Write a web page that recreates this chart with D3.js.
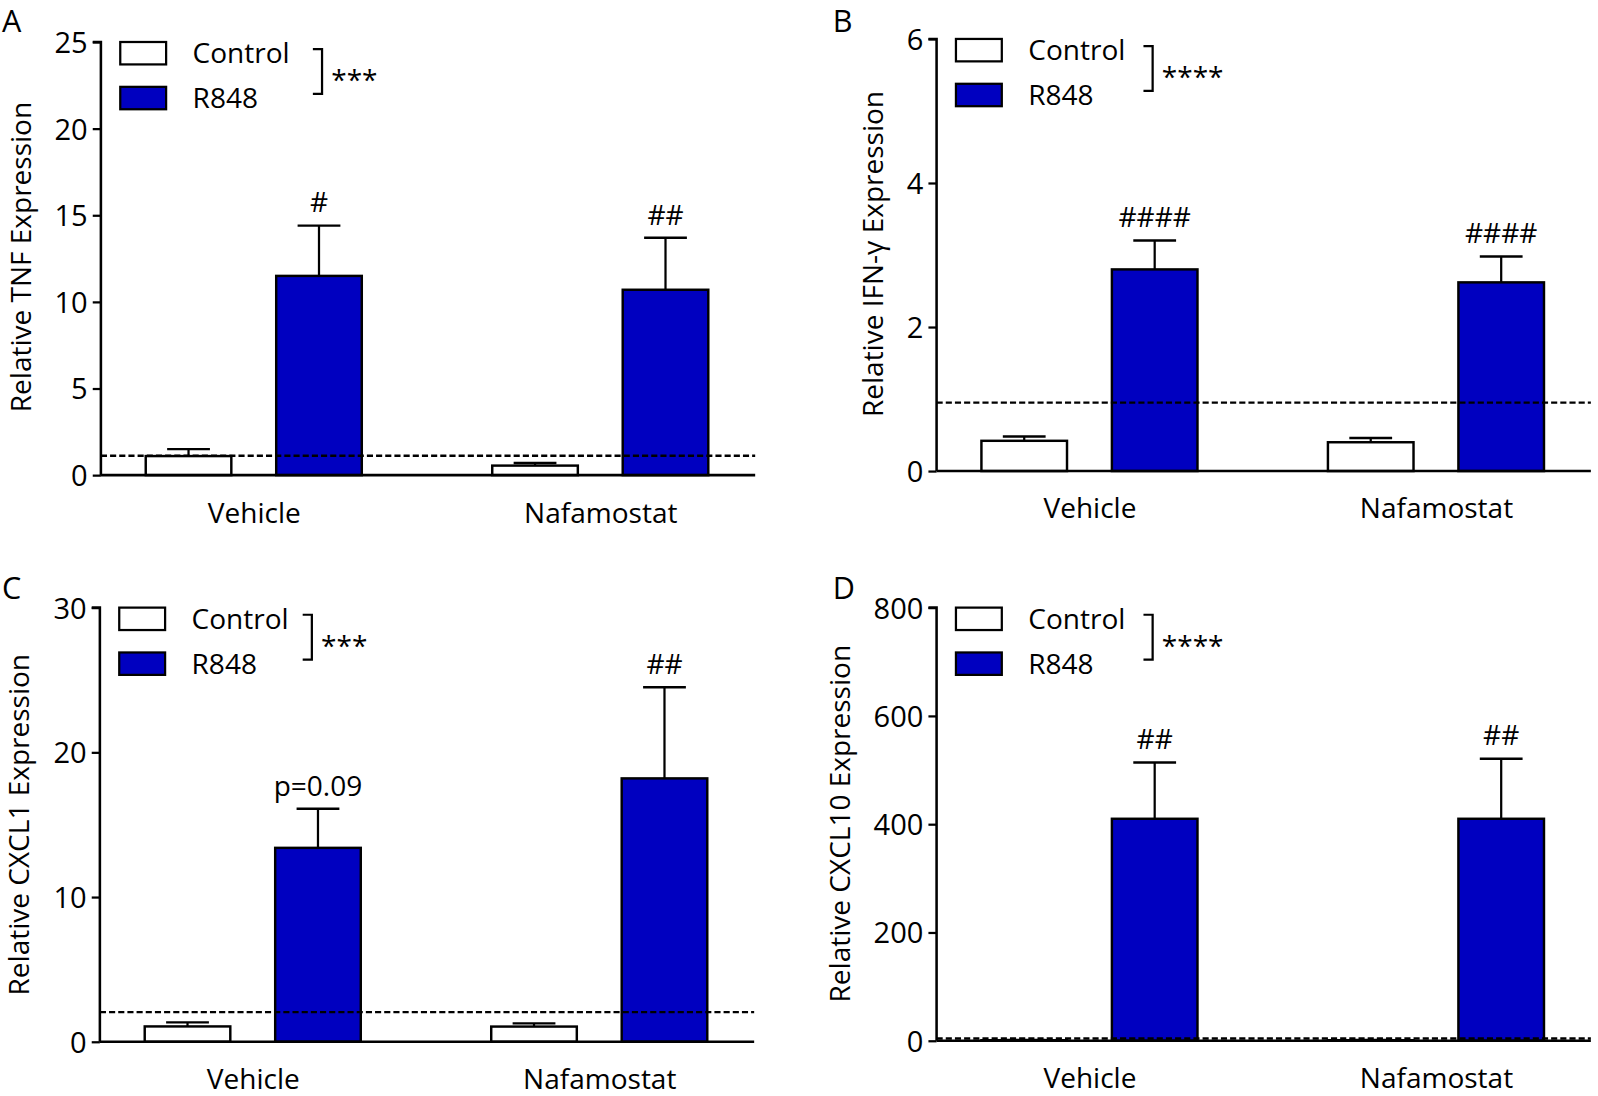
<!DOCTYPE html>
<html>
<head>
<meta charset="utf-8">
<script src="https://cdn.jsdelivr.net/npm/d3@7"></script>
<style>
  html, body { margin: 0; padding: 0; background: #fff; }
  svg { display: block; }
  text { font-family: "Open Sans", "DejaVu Sans", sans-serif; fill: #000; }
</style>
</head>
<body>
<script>
// ---------------- DATA ----------------
const categories = ["Vehicle", "Nafamostat"];
const seriesNames = ["Control", "R848"];

// A: TNF
const tnfControl = [1.1, 0.55];
const tnfControlSem = [0.4, 0.15];
const tnfR848 = [11.5, 10.7];
const tnfR848Sem = [2.9, 3.0];
const tnfTicks = [0, 5, 10, 15, 20, 25];
const tnfRef = 1.12;
const tnfMarks = ["#", "##"];
const tnfSig = "***";

// B: IFN-γ
const ifnControl = [0.42, 0.40];
const ifnControlSem = [0.06, 0.06];
const ifnR848 = [2.8, 2.62];
const ifnR848Sem = [0.4, 0.36];
const ifnTicks = [0, 2, 4, 6];
const ifnRef = 0.95;
const ifnMarks = ["####", "####"];
const ifnSig = "****";

// C: CXCL1
const cxcl1Control = [1.06, 1.05];
const cxcl1ControlSem = [0.28, 0.22];
const cxcl1R848 = [13.4, 18.2];
const cxcl1R848Sem = [2.7, 6.3];
const cxcl1Ticks = [0, 10, 20, 30];
const cxcl1Ref = 2.05;
const cxcl1Marks = ["p=0.09", "##"];
const cxcl1Sig = "***";

// D: CXCL10
const cxcl10Control = [1.0, 1.0];
const cxcl10ControlSem = [0.4, 0.4];
const cxcl10R848 = [410, 410];
const cxcl10R848Sem = [104, 111];
const cxcl10Ticks = [0, 200, 400, 600, 800];
const cxcl10Ref = 4;
const cxcl10Marks = ["##", "##"];
const cxcl10Sig = "****";

const panelLetters = ["A", "B", "C", "D"];
const yTitles = ["Relative TNF Expression", "Relative IFN-\u03B3 Expression",
                 "Relative CXCL1 Expression", "Relative CXCL10 Expression"];

// ---------------- LAYOUT ----------------
const W = 1568, H = 1075;
const svg = d3.select("body").append("svg")
  .attr("width", 1598).attr("height", 1096)
  .attr("viewBox", `0 0 ${W} ${H}`);

const fills = { "Control": "#ffffff", "R848": "#0000c0" };

const panels = [
  { letter: panelLetters[0], title: yTitles[0], ctrl: tnfControl, ctrlSem: tnfControlSem, r: tnfR848, rSem: tnfR848Sem,
    ticks: tnfTicks, ref: tnfRef, marks: tnfMarks, sig: tnfSig,
    left: 99, top: 41, bottom: 466, lx: 2, ly: 31, tx: 30, ty: 252, bx: 316, sy: 18 },
  { letter: panelLetters[1], title: yTitles[1], ctrl: ifnControl, ctrlSem: ifnControlSem, r: ifnR848, rSem: ifnR848Sem,
    ticks: ifnTicks, ref: ifnRef, marks: ifnMarks, sig: ifnSig,
    left: 919, top: 38, bottom: 462, lx: 817, ly: 31, tx: 866, ty: 249, bx: 1131, sy: 18 },
  { letter: panelLetters[2], title: yTitles[2], ctrl: cxcl1Control, ctrlSem: cxcl1ControlSem, r: cxcl1R848, rSem: cxcl1R848Sem,
    ticks: cxcl1Ticks, ref: cxcl1Ref, marks: cxcl1Marks, sig: cxcl1Sig,
    left: 98, top: 596, bottom: 1022, lx: 2, ly: 588, tx: 28, ty: 809, bx: 306, sy: 18 },
  { letter: panelLetters[3], title: yTitles[3], ctrl: cxcl10Control, ctrlSem: cxcl10ControlSem, r: cxcl10R848, rSem: cxcl10R848Sem,
    ticks: cxcl10Ticks, ref: cxcl10Ref, marks: cxcl10Marks, sig: cxcl10Sig,
    left: 919, top: 596, bottom: 1021, lx: 817, ly: 588, tx: 834, ty: 808, bx: 1131, sy: 18 }
];

const plotW = 642;
const FS = 27.5;

panels.forEach(p => {
  const g = svg.append("g");
  const maxV = p.ticks[p.ticks.length - 1];
  const y = d3.scaleLinear().domain([0, maxV]).range([p.bottom, p.top]);
  const x = d3.scalePoint().domain(categories).range([p.left + 150, p.left + 490]);
  const xs = d3.scaleBand().domain(seriesNames).range([-106, 106]).paddingInner(0.344);

  // panel letter
  g.append("text").attr("x", p.lx).attr("y", p.ly).attr("font-size", 30).text(p.letter);

  // y title
  g.append("text")
    .attr("transform", `translate(${p.tx},${p.ty}) rotate(-90)`)
    .attr("text-anchor", "middle").attr("font-size", FS).text(p.title);

  // data rows
  const rows = [];
  categories.forEach((c, i) => {
    rows.push({ cat: c, s: "Control", v: p.ctrl[i], e: p.ctrlSem[i], mark: null });
    rows.push({ cat: c, s: "R848", v: p.r[i], e: p.rSem[i], mark: p.marks[i] });
  });

  // error bars (upper)
  rows.forEach(d => {
    const cx = x(d.cat) + xs(d.s) + xs.bandwidth() / 2;
    const yt = y(d.v + d.e);
    g.append("line").attr("x1", cx).attr("x2", cx).attr("y1", y(d.v)).attr("y2", yt)
      .attr("stroke", "#000").attr("stroke-width", 2.2);
    g.append("line").attr("x1", cx - xs.bandwidth() / 4).attr("x2", cx + xs.bandwidth() / 4)
      .attr("y1", yt).attr("y2", yt).attr("stroke", "#000").attr("stroke-width", 2.4);
    if (d.mark) {
      g.append("text").attr("x", cx).attr("y", yt - 13).attr("text-anchor", "middle")
        .attr("font-size", FS).text(d.mark);
    }
  });

  // bars
  g.selectAll("rect.bar").data(rows).enter().append("rect")
    .attr("class", "bar")
    .attr("x", d => x(d.cat) + xs(d.s))
    .attr("width", xs.bandwidth())
    .attr("y", d => y(d.v))
    .attr("height", d => y(0) - y(d.v))
    .attr("fill", d => fills[d.s])
    .attr("stroke", "#000").attr("stroke-width", 2.4);

  // dashed reference line
  g.append("line").attr("x1", p.left).attr("x2", p.left + plotW)
    .attr("y1", y(p.ref)).attr("y2", y(p.ref))
    .attr("stroke", "#000").attr("stroke-width", 2.4).attr("stroke-dasharray", "6,3");

  // y axis
  const yAxis = d3.axisLeft(y).tickValues(p.ticks).tickSize(8).tickPadding(5).tickFormat(d3.format("d"));
  const ya = g.append("g").attr("transform", `translate(${p.left},0)`).call(yAxis);
  ya.select(".domain").attr("stroke-width", 2.5).attr("d", `M-8,${p.top}H0V${p.bottom}`);
  ya.selectAll(".tick line").attr("stroke-width", 2.2);
  ya.selectAll(".tick text").attr("font-size", 28.5).attr("font-family", "Open Sans").attr("dy", "0.36em");

  // x axis
  const xAxis = d3.axisBottom(x).tickSize(0).tickPadding(27);
  const xa = g.append("g").attr("transform", `translate(0,${p.bottom})`).call(xAxis);
  xa.select(".domain").attr("stroke-width", 2.5).attr("d", `M${p.left},0H${p.left + plotW}`);
  xa.selectAll(".tick text").attr("font-size", FS).attr("font-family", "Open Sans");

  // legend
  const lg = g.append("g").attr("transform", `translate(${p.left + 19},${p.top})`);
  seriesNames.forEach((s, i) => {
    lg.append("rect").attr("x", 0).attr("y", i * 44).attr("width", 45).attr("height", 22)
      .attr("fill", fills[s]).attr("stroke", "#000").attr("stroke-width", 2.2);
    lg.append("text").attr("x", 71).attr("y", i * 44 + 11).attr("dy", "0.36em")
      .attr("font-size", FS).text(s);
  });
  // bracket
  const b0 = p.top + 7, b1 = p.top + 51;
  g.append("path").attr("d", `M${p.bx - 9},${b0}H${p.bx}V${b1}H${p.bx - 9}`)
    .attr("fill", "none").attr("stroke", "#000").attr("stroke-width", 2.2);
  g.append("text").attr("x", p.bx + 9).attr("y", (b0 + b1) / 2 + p.sy).attr("font-size", FS).text(p.sig);
});
</script>
</body>
</html>
